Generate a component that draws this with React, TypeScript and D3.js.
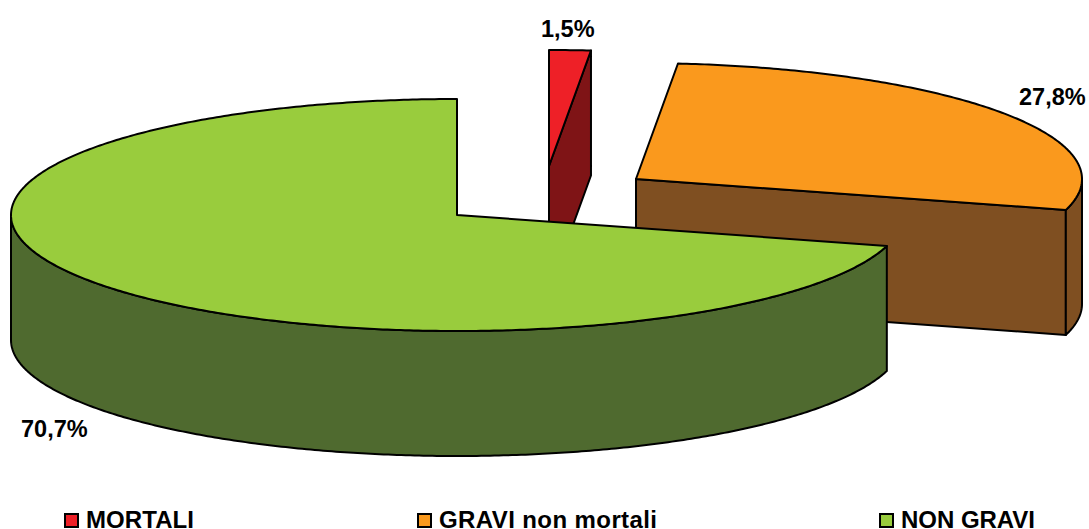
import React from "react";
import * as d3 from "d3";

const categories = ["MORTALI", "GRAVI non mortali", "NON GRAVI"];
const values = [1.5, 27.8, 70.7];
const valueLabels = ["1,5%", "27,8%", "70,7%"];
const topColors = ["#ee2027", "#fa991d", "#99cc3d"];
const wallColors = ["#7f1416", "#7f4f21", "#4f6a2f"];

const WIDTH = 1089;
const HEIGHT = 529;
const RX = 446;
const RY = 116;
const DEPTH = 125;
const FONT = "'Liberation Sans', Arial, sans-serif";
const centers: [number, number][] = [[549, 166], [636, 179], [457, 215]];
const labelPos: [number, number][] = [[541, 37], [1019, 105], [21, 437]];
const legendX = [65, 418, 880];
const legendTextWidth = [108, 218, 134];

const xScale = d3.scaleLinear().domain([-1, 1]).range([-RX, RX]);
const yScale = d3.scaleLinear().domain([-1, 1]).range([-RY, RY]);
const line = d3.line<[number, number]>().x((d) => d[0]).y((d) => d[1]);

function pt(c: [number, number], a: number, dz = 0): [number, number] {
  return [c[0] + xScale(Math.sin(a)), c[1] + yScale(-Math.cos(a)) + dz];
}
function arcPts(c: [number, number], a0: number, a1: number, dz = 0): [number, number][] {
  const n = Math.max(2, Math.ceil(Math.abs(a1 - a0) / 0.01));
  return d3.range(n + 1).map((i) => pt(c, a0 + ((a1 - a0) * i) / n, dz));
}

const slices = d3.pie<number>().sort(null).value((d) => d)(values);

export default function App() {
  const R = Math.PI / 2;
  const stroke = { stroke: "#000", strokeWidth: 2, strokeLinejoin: "round" as const };
  return (
    <svg width={WIDTH} height={HEIGHT} style={{ position: "absolute", left: 0, top: 0, background: "#fff" }}>
      {slices.map((s, i) => {
        const c = centers[i];
        const a0 = s.startAngle;
        const a1 = s.endAngle;
        const top = [c, ...arcPts(c, a0, a1)];
        // cut face at the end of the slice, visible for the two rear slices
        const cut = [c, pt(c, a1), pt(c, a1, DEPTH), [c[0], c[1] + DEPTH] as [number, number]];
        // outer rim: the part of the arc that faces the viewer
        const r0 = Math.max(a0, R);
        const r1 = Math.min(a1, 3 * R);
        const rim = r1 > r0 ? [...arcPts(c, r0, r1), ...arcPts(c, r1, r0, DEPTH)] : null;
        return (
          <g key={categories[i]}>
            {i < 2 && <path d={line(cut) + "Z"} fill={wallColors[i]} {...stroke} />}
            {rim && <path d={line(rim) + "Z"} fill={wallColors[i]} {...stroke} />}
            <path d={line(top) + "Z"} fill={topColors[i]} {...stroke} />
          </g>
        );
      })}
      {valueLabels.map((t, i) => (
        <text key={t} x={labelPos[i][0]} y={labelPos[i][1]} fontFamily={FONT} fontWeight="bold" fontSize={23.5} fill="#000">
          {t}
        </text>
      ))}
      {categories.map((t, i) => (
        <g key={t}>
          <rect x={legendX[i]} y={514} width={13} height={13} fill={topColors[i]} stroke="#000" strokeWidth={2} />
          <text
            x={legendX[i] + 21}
            y={528}
            fontFamily={FONT}
            fontWeight="bold"
            fontSize={24}
            fill="#000"
            textLength={legendTextWidth[i]}
            lengthAdjust="spacing"
          >
            {t}
          </text>
        </g>
      ))}
    </svg>
  );
}
